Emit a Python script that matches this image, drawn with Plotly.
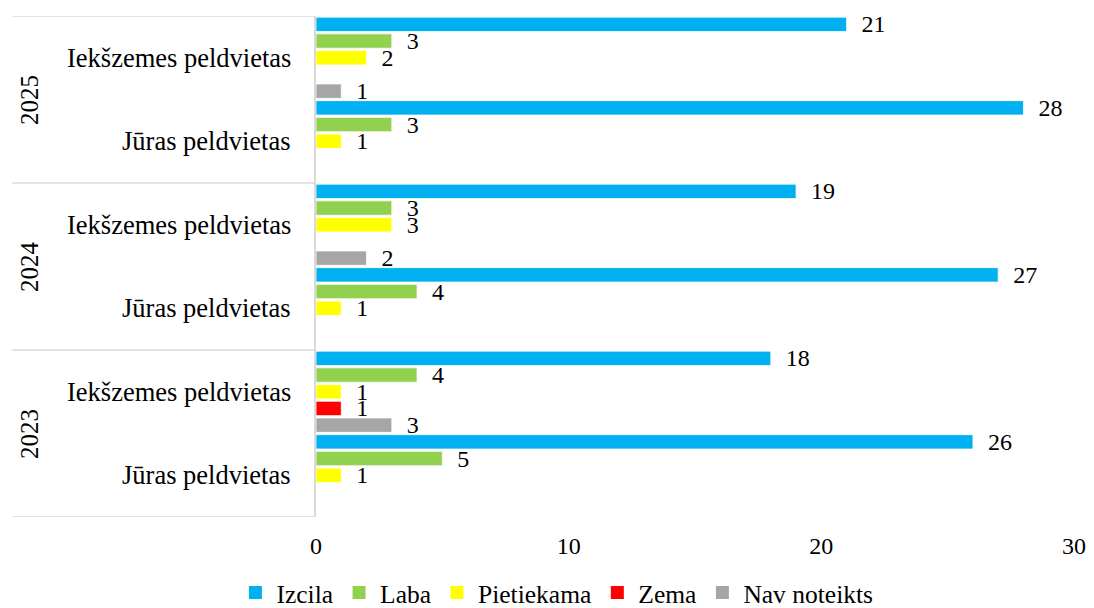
import plotly.graph_objects as go

# categories from bottom to top
years = ["2023", "2024", "2025"]
places = ["Jūras peldvietas", "Iekšzemes peldvietas"]

series_names = ["Izcila", "Laba", "Pietiekama", "Zema", "Nav noteikts"]
izcila = [26, 18, 27, 19, 28, 21]
laba = [5, 4, 4, 3, 3, 3]
pietiekama = [1, 1, 1, 3, 1, 2]
zema = [0, 1, 0, 0, 0, 0]
nav_noteikts = [0, 3, 0, 2, 0, 1]

x_ticks = [0, 10, 20, 30]

colors = ["#00B0F0", "#92D050", "#FFFF00", "#FF0000", "#A6A6A6"]
font_name = "Liberation Serif, DejaVu Serif, serif"

series = [izcila, laba, pietiekama, zema, nav_noteikts]
n_cat = len(years) * len(places)
ypos = list(range(n_cat))

fig = go.Figure()
# plotly puts the first trace at the bottom of a group, so add them reversed
for k in reversed(range(len(series))):
    vals = series[k]
    fig.add_trace(go.Bar(
        y=ypos, x=vals, orientation="h", name=series_names[k],
        marker=dict(color=colors[k], line=dict(color="white", width=0.75)),
        text=["\u00a0\u00a0" + str(v) if v else "" for v in vals],
        textposition="outside", constraintext="none", cliponaxis=False,
        textfont=dict(family=font_name, size=24, color="black"),
        showlegend=False, hoverinfo="x+name",
    ))
# legend entries with square keys like the original
for k, name in enumerate(series_names):
    fig.add_trace(go.Scatter(
        x=[None], y=[None], mode="markers", name=name,
        marker=dict(symbol="square", size=13, color=colors[k]),
        legendrank=k + 1,
    ))

# category labels and the frame of the two-level axis
for i in range(n_cat):
    fig.add_annotation(x=0, y=i, xref="paper", yref="y", xshift=-23,
                       text=places[i % len(places)], showarrow=False,
                       xanchor="right", yanchor="middle",
                       font=dict(family=font_name, size=26.5, color="black"))
for j, yr in enumerate(years):
    mid = j * len(places) + (len(places) - 1) / 2
    fig.add_annotation(x=-0.378, y=mid, xref="paper", yref="y",
                       text=yr, showarrow=False, textangle=-90,
                       xanchor="center", yanchor="middle",
                       font=dict(family=font_name, size=25, color="black"))
for j in range(len(years) + 1):
    yb = j * len(places) - 0.5
    fig.add_shape(type="line", xref="paper", yref="y", x0=-0.4005, x1=0,
                  y0=yb, y1=yb, line=dict(color="#D9D9D9", width=1.5))

# page body has an 8px margin, so the figure is 8px smaller
fig.update_layout(
    width=1086, height=600,
    margin=dict(l=308, r=14, t=8, b=91),
    plot_bgcolor="white", paper_bgcolor="white",
    barmode="group", bargap=0, bargroupgap=0.14,
    font=dict(family=font_name, size=24, color="black"),
    xaxis=dict(range=[0, 30], tickvals=x_ticks, showgrid=False,
               zeroline=False, showline=False, ticks="",
               ticklabelstandoff=12,
               tickfont=dict(family=font_name, size=24, color="black")),
    yaxis=dict(range=[-0.5, n_cat - 0.5], showticklabels=False,
               showgrid=False, zeroline=False, showline=True,
               linecolor="#D9D9D9", linewidth=1.5, ticks=""),
    legend=dict(orientation="h", xref="container", yref="container",
                x=0.505, y=0.025, xanchor="center", yanchor="middle",
                font=dict(family=font_name, size=25.5, color="black"),
                itemwidth=32, tracegroupgap=0),
    showlegend=True,
)

fig.write_html("out.html")
